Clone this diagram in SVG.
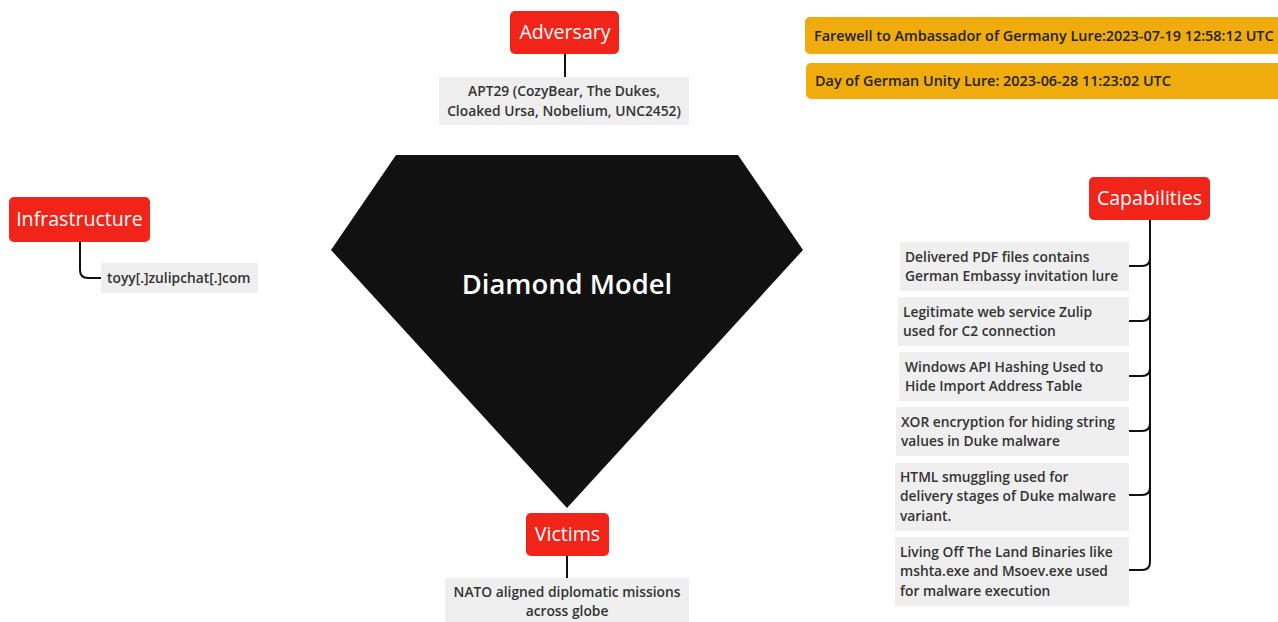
<svg xmlns="http://www.w3.org/2000/svg" width="1278" height="622" viewBox="0 0 1278 622">
<style>
.hdr{fill:#F02418}
.hdrt{fill:#fff;font-family:"Open Sans",Lato,sans-serif;font-size:19.6px;text-anchor:middle}
.box{fill:#EFEFEF}
.t{fill:#333;font-family:"Open Sans",Lato,sans-serif;font-size:13.8px;font-weight:600}
.tc{text-anchor:middle}
.or{fill:#F0AC0D}
.ot{fill:#222;font-family:"Open Sans",Lato,sans-serif;font-size:14.4px;font-weight:600}
.ln{fill:none;stroke:#111;stroke-width:2}
</style>
<rect width="1278" height="622" fill="#fff"/>
<g id="connectors">
<path class="ln" d="M565 54V77"/>
<path class="ln" d="M567 556V578"/>
<path class="ln" d="M80 242V270Q80 278 88 278H101"/>
<path class="ln" d="M1150 220V562Q1150 570 1142 570H1129"/>
<path class="ln" d="M1129 266H1142Q1150 266 1150 258"/>
<path class="ln" d="M1129 321H1142Q1150 321 1150 313"/>
<path class="ln" d="M1129 376H1142Q1150 376 1150 368"/>
<path class="ln" d="M1129 431H1142Q1150 431 1150 423"/>
<path class="ln" d="M1129 495H1142Q1150 495 1150 487"/>
</g>
<g id="diamond">
<polygon points="396,155 738,155 803,250 567,508 331,250" fill="#111"/>
<text x="567" y="294" fill="#fff" font-family="'Open Sans',Lato,sans-serif" font-size="27.4" font-weight="600" text-anchor="middle">Diamond Model</text>
</g>
<g id="adversary">
<rect class="hdr" x="510" y="11" width="109" height="43" rx="5"/>
<text class="hdrt" x="565" y="39">Adversary</text>
</g>
<g id="adversary-detail">
<rect class="box" x="439" y="77" width="250" height="48"/>
<text class="t tc" x="564" y="96">APT29 (CozyBear, The Dukes,</text>
<text class="t tc" x="564" y="116">Cloaked Ursa, Nobelium, UNC2452)</text>
</g>
<g id="lure1">
<rect class="or" x="805" y="17" width="480" height="37" rx="5"/>
<text class="ot" x="814" y="41">Farewell to Ambassador of Germany Lure:2023-07-19 12:58:12 UTC</text>
</g>
<g id="lure2">
<rect class="or" x="806" y="63" width="480" height="36" rx="5"/>
<text class="ot" x="815" y="86">Day of German Unity Lure: 2023-06-28 11:23:02 UTC</text>
</g>
<g id="infrastructure">
<rect class="hdr" x="9" y="197" width="141" height="45" rx="5"/>
<text class="hdrt" x="79.5" y="226">Infrastructure</text>
</g>
<g id="infrastructure-detail">
<rect class="box" x="101" y="263" width="157" height="30"/>
<text class="t" x="107" y="283">toyy[.]zulipchat[.]com</text>
</g>
<g id="capabilities">
<rect class="hdr" x="1089" y="177" width="121" height="43" rx="5"/>
<text class="hdrt" x="1149.5" y="205">Capabilities</text>
</g>
<g id="cap1">
<rect class="box" x="900" y="242" width="229" height="49"/>
<text class="t" x="905" y="262">Delivered PDF files contains</text>
<text class="t" x="905" y="281">German Embassy invitation lure</text>
</g>
<g id="cap2">
<rect class="box" x="898" y="297" width="231" height="49"/>
<text class="t" x="903" y="317">Legitimate web service Zulip</text>
<text class="t" x="903" y="336">used for C2 connection</text>
</g>
<g id="cap3">
<rect class="box" x="899" y="352" width="230" height="49"/>
<text class="t" x="905" y="372">Windows API Hashing Used to</text>
<text class="t" x="905" y="391">Hide Import Address Table</text>
</g>
<g id="cap4">
<rect class="box" x="896" y="407" width="233" height="49"/>
<text class="t" x="901" y="427">XOR encryption for hiding string</text>
<text class="t" x="901" y="446">values in Duke malware</text>
</g>
<g id="cap5">
<rect class="box" x="895" y="463" width="234" height="68"/>
<text class="t" x="900" y="482">HTML smuggling used for</text>
<text class="t" x="900" y="501">delivery stages of Duke malware</text>
<text class="t" x="900" y="521">variant.</text>
</g>
<g id="cap6">
<rect class="box" x="895" y="537" width="234" height="69"/>
<text class="t" x="900" y="557">Living Off The Land Binaries like</text>
<text class="t" x="900" y="576">mshta.exe and Msoev.exe used</text>
<text class="t" x="900" y="596">for malware execution</text>
</g>
<g id="victims">
<rect class="hdr" x="526" y="513" width="83" height="43" rx="5"/>
<text class="hdrt" x="567.5" y="541">Victims</text>
</g>
<g id="victims-detail">
<rect class="box" x="445" y="578" width="244" height="44"/>
<text class="t tc" x="567" y="597">NATO aligned diplomatic missions</text>
<text class="t tc" x="567" y="616">across globe</text>
</g>
</svg>
